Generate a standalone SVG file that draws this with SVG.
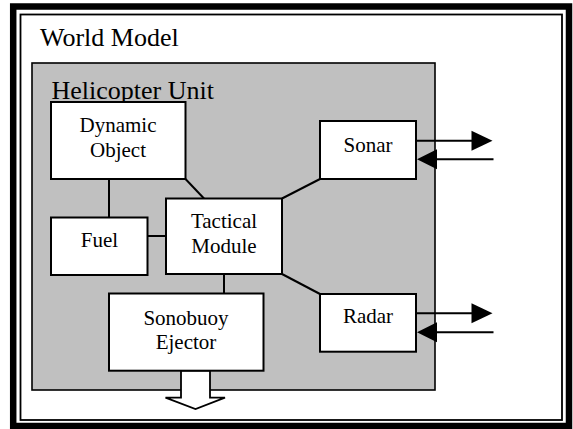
<svg xmlns="http://www.w3.org/2000/svg" width="573" height="429" viewBox="0 0 573 429">
  <style>
    .box { fill: #ffffff; stroke: #000000; stroke-width: 2; }
    .lbl { font-family: "Liberation Serif", "Times New Roman", serif; font-size: 21px; fill: #000000; text-anchor: middle; }
    .title { font-family: "Liberation Serif", "Times New Roman", serif; font-size: 26px; fill: #000000; }
    .wire { stroke: #000000; stroke-width: 2; fill: none; }
    .head { fill: #000000; stroke: none; }
  </style>

  <!-- world model frame: heavy outer border plus thin inner rule -->
  <g id="world-model">
    <rect x="0" y="0" width="573" height="429" fill="#ffffff"/>
    <rect x="13.2" y="6.5" width="555.8" height="419.5" fill="none" stroke="#000000" stroke-width="6.5"/>
    <rect x="20.5" y="14.5" width="541.5" height="405.5" fill="none" stroke="#000000" stroke-width="1.8"/>
    <text class="title" x="40" y="45.5">World Model</text>
  </g>

  <!-- helicopter unit container -->
  <g id="helicopter-unit">
    <rect x="32" y="63" width="403" height="327" fill="#c0c0c0" stroke="#000000" stroke-width="1.6"/>
    <text class="title" x="51.5" y="99">Helicopter Unit</text>
  </g>

  <!-- connectors -->
  <g id="connectors">
    <line class="wire" x1="109" y1="179" x2="109" y2="217.5"/>
    <line class="wire" x1="147.5" y1="236" x2="166" y2="236"/>
    <line class="wire" x1="185.5" y1="179" x2="204" y2="198.5"/>
    <line class="wire" x1="282" y1="198.5" x2="320" y2="179"/>
    <line class="wire" x1="282" y1="274" x2="320" y2="294"/>
    <line class="wire" x1="224" y1="274" x2="224" y2="293.5"/>

    <!-- sonar signal out / in -->
    <line class="wire" x1="416" y1="140.7" x2="472" y2="140.7"/>
    <polygon class="head" points="471.5,130.7 492.5,140.7 471.5,150.7"/>
    <line class="wire" x1="436" y1="159.3" x2="493.5" y2="159.3"/>
    <polygon class="head" points="437,149.3 417,159.3 437,169.3"/>

    <!-- radar signal out / in -->
    <line class="wire" x1="416" y1="313.3" x2="472" y2="313.3"/>
    <polygon class="head" points="471.5,303.3 492.5,313.3 471.5,323.3"/>
    <line class="wire" x1="436" y1="332.3" x2="493.5" y2="332.3"/>
    <polygon class="head" points="437,322.3 417,332.3 437,342.3"/>

    <!-- sonobuoy drop arrow -->
    <polygon points="181,370.7 210,370.7 210,397.7 225,397.7 195.5,409 165.5,397.7 181,397.7" fill="#ffffff" stroke="#000000" stroke-width="1.8" stroke-linejoin="miter"/>
  </g>

  <g id="dynamic-object">
    <rect class="box" x="51" y="102" width="134.5" height="77"/>
    <text class="lbl" x="118" y="131.7">Dynamic</text>
    <text class="lbl" x="118" y="156.7">Object</text>
  </g>

  <g id="fuel">
    <rect class="box" x="51" y="217.5" width="96.5" height="57.5"/>
    <text class="lbl" x="99.5" y="246.7">Fuel</text>
  </g>

  <g id="tactical-module">
    <rect class="box" x="166" y="198.5" width="116" height="75.5"/>
    <text class="lbl" x="224" y="228.3">Tactical</text>
    <text class="lbl" x="224" y="252.7">Module</text>
  </g>

  <g id="sonar">
    <rect class="box" x="320" y="121" width="96" height="58"/>
    <text class="lbl" x="368" y="151.7">Sonar</text>
  </g>

  <g id="radar">
    <rect class="box" x="320" y="294" width="96" height="57.7"/>
    <text class="lbl" x="368" y="323.3">Radar</text>
  </g>

  <g id="sonobuoy-ejector">
    <rect class="box" x="109" y="293.5" width="154.5" height="77.2"/>
    <text class="lbl" x="186" y="325">Sonobuoy</text>
    <text class="lbl" x="186" y="349">Ejector</text>
  </g>
</svg>
